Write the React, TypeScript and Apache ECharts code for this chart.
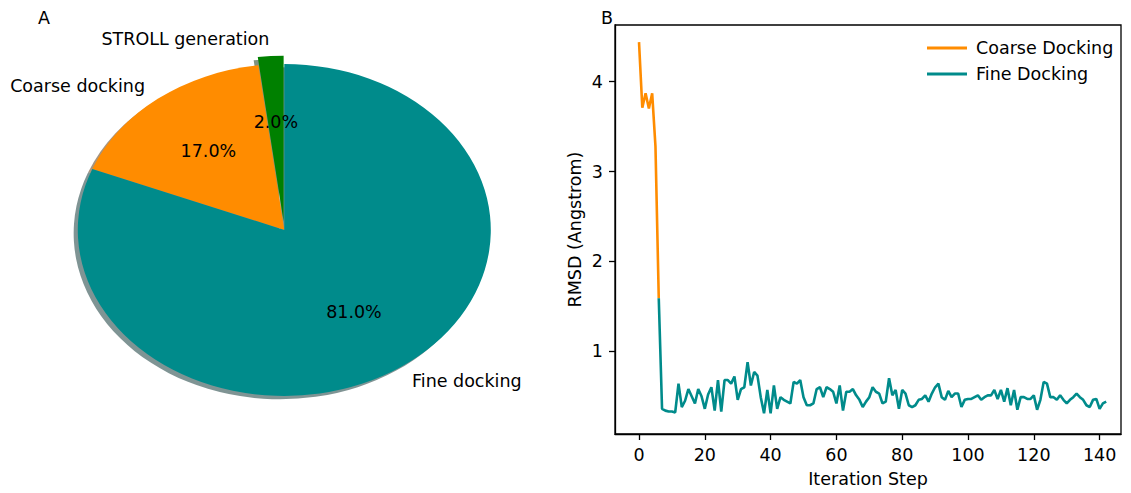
import React, { useEffect, useRef } from "react";
import * as echarts from "echarts";

// ---------- data ----------
const pieLabels = ["STROLL generation", "Coarse docking", "Fine docking"];
const pieValues = [2, 17, 81];
const pieColors = ["#008000", "#ff8c00", "#008b8b"];
const pieExplode = [0.05, 0, 0];

const coarseStart = 0;
const coarseValues = [4.44, 3.71, 3.87, 3.7, 3.87, 3.28, 1.59];

const fineStart = 6;
const fineValues = [
  1.59,
  0.36, 0.34, 0.33, 0.33, 0.32,
  0.64, 0.38, 0.45, 0.58, 0.5,
  0.42, 0.58, 0.5, 0.36, 0.52,
  0.6, 0.34, 0.68, 0.33, 0.68,
  0.68, 0.64, 0.72, 0.46, 0.58,
  0.6, 0.88, 0.62, 0.77, 0.73,
  0.49, 0.31, 0.57, 0.31, 0.62,
  0.36, 0.49, 0.46, 0.44, 0.42,
  0.66, 0.64, 0.68, 0.49, 0.4,
  0.4, 0.42, 0.58, 0.6, 0.49,
  0.6, 0.58, 0.55, 0.42, 0.62,
  0.34, 0.55, 0.55, 0.58, 0.51,
  0.46, 0.38, 0.44, 0.49, 0.6,
  0.55, 0.53, 0.42, 0.44, 0.7,
  0.51, 0.57, 0.36, 0.57, 0.53,
  0.4, 0.38, 0.4, 0.46, 0.47,
  0.51, 0.44, 0.53, 0.6, 0.64,
  0.49, 0.46, 0.56, 0.49, 0.53,
  0.53, 0.38, 0.46, 0.47, 0.47,
  0.49, 0.51, 0.46, 0.49, 0.51,
  0.51, 0.57, 0.47, 0.57, 0.44,
  0.59, 0.4, 0.57, 0.35, 0.49,
  0.49, 0.47,
  0.47, 0.51, 0.35, 0.46, 0.66,
  0.64, 0.49, 0.49, 0.46, 0.51,
  0.46, 0.42, 0.46, 0.49, 0.53,
  0.49, 0.46, 0.4, 0.38, 0.46,
  0.47, 0.36, 0.42, 0.44,
];

const xTicks = [0, 20, 40, 60, 80, 100, 120, 140];
const yTicks = [1, 2, 3, 4];

// ---------- layout ----------
const W = 1131;
const H = 493;
const FONT = "DejaVu Sans";
const FS = 17.5;
const PIE_CX = 284.3;
const PIE_CY = 230;
const RX = 206.5;
const RY = 166;

function shadowColor(hex: string) {
  const r = parseInt(hex.slice(1, 3), 16);
  const g = parseInt(hex.slice(3, 5), 16);
  const b = parseInt(hex.slice(5, 7), 16);
  return `rgba(${Math.round(r * 0.3)},${Math.round(g * 0.3)},${Math.round(b * 0.3)},0.5)`;
}

export default function App() {
  const ref = useRef<HTMLDivElement>(null);

  useEffect(() => {
    if (!ref.current) return;
    const chart = echarts.init(ref.current, undefined, { renderer: "svg" });
    const total = pieValues.reduce((a, b) => a + b, 0);

    const pieRender = (params: any, api: any) => {
      const i = params.dataIndex;
      let cum = 0;
      for (let j = 0; j < i; j++) cum += pieValues[j];
      const v = api.value(0);
      const a1 = Math.PI / 2 + (cum / total) * 2 * Math.PI;
      const a2 = a1 + (v / total) * 2 * Math.PI;
      const mid = (a1 + a2) / 2;
      const ex = pieExplode[i];
      const cx = PIE_CX + ex * RX * Math.cos(mid);
      const cy = PIE_CY - ex * RY * Math.sin(mid);
      const sectorShape = { cx: 0, cy: 0, r: RY, r0: 0, startAngle: -a1, endAngle: -a2, clockwise: false };
      const lx = cx + 1.1 * RX * Math.cos(mid);
      const ly = cy - 1.1 * RY * Math.sin(mid);
      const px = cx + 0.6 * RX * Math.cos(mid);
      const py = cy - 0.6 * RY * Math.sin(mid);
      const c = Math.cos(mid);
      return {
        type: "group",
        children: [
          {
            type: "group",
            x: cx - 0.02 * RX,
            y: cy + 0.02 * RY,
            scaleX: RX / RY,
            scaleY: 1,
            children: [
              { type: "sector", shape: sectorShape, style: { fill: shadowColor(pieColors[i]) }, z2: 0 },
            ],
          },
          {
            type: "group",
            x: cx,
            y: cy,
            scaleX: RX / RY,
            scaleY: 1,
            children: [
              { type: "sector", shape: sectorShape, style: { fill: pieColors[i] }, z2: 10 },
            ],
          },
          {
            type: "text",
            x: lx,
            y: ly,
            z2: 20,
            style: {
              text: pieLabels[i],
              fontFamily: FONT,
              fontSize: FS,
              fill: "#000",
              align: Math.abs(c) < 1e-9 ? "center" : c > 0 ? "left" : "right",
              verticalAlign: "middle",
            },
          },
          {
            type: "text",
            x: px,
            y: py,
            z2: 20,
            style: {
              text: ((v / total) * 100).toFixed(1) + "%",
              fontFamily: FONT,
              fontSize: FS,
              fill: "#000",
              align: "center",
              verticalAlign: "middle",
            },
          },
        ],
      };
    };

    const coarseData = coarseValues.map((y, k) => [coarseStart + k, y]);
    const fineData = fineValues.map((y, k) => [fineStart + k, y]);

    chart.setOption({
      animation: false,
      backgroundColor: "#fff",
      textStyle: { fontFamily: FONT },
      grid: {
        left: 615,
        right: W - 1121,
        top: 25,
        bottom: H - 437,
        show: true,
        borderColor: "#000",
        borderWidth: 1.3,
        backgroundColor: "transparent",
      },
      legend: {
        orient: "vertical",
        left: 922,
        top: 34,
        icon: "rect",
        itemWidth: 40,
        itemHeight: 3,
        itemGap: 8,
        textStyle: { fontFamily: FONT, fontSize: FS, color: "#000", padding: [0, 0, 0, 4] },
        data: ["Coarse Docking", "Fine Docking"],
      },
      xAxis: {
        type: "value",
        min: -7.3,
        max: 146.5,
        name: "Iteration Step",
        nameLocation: "middle",
        nameGap: 36,
        nameTextStyle: { fontFamily: FONT, fontSize: FS, color: "#000" },
        axisLine: { show: true, onZero: false, lineStyle: { color: "#000", width: 1.3 } },
        axisTick: { show: true, inside: false, length: 6, lineStyle: { color: "#000", width: 1.3 }, customValues: xTicks },
        axisLabel: { fontFamily: FONT, fontSize: FS, color: "#000", margin: 12, customValues: xTicks },
        splitLine: { show: false },
      },
      yAxis: {
        type: "value",
        min: 0.08,
        max: 4.63,
        name: "RMSD (Angstrom)",
        nameLocation: "middle",
        nameRotate: 90,
        nameGap: 31,
        nameTextStyle: { fontFamily: FONT, fontSize: FS, color: "#000" },
        axisLine: { show: true, onZero: false, lineStyle: { color: "#000", width: 1.3 } },
        axisTick: { show: true, inside: false, length: 6, lineStyle: { color: "#000", width: 1.3 }, customValues: yTicks },
        axisLabel: { fontFamily: FONT, fontSize: FS, color: "#000", margin: 12, customValues: yTicks },
        splitLine: { show: false },
      },
      graphic: [
        { type: "text", left: 38, top: 9, style: { text: "A", fontFamily: FONT, fontSize: FS, fill: "#000" } },
        { type: "text", left: 601, top: 9, style: { text: "B", fontFamily: FONT, fontSize: FS, fill: "#000" } },
      ],
      series: [
        {
          type: "custom",
          name: "pie",
          coordinateSystem: "none",
          renderItem: pieRender,
          data: pieValues,
          silent: true,
        },
        {
          type: "line",
          name: "Coarse Docking",
          data: coarseData,
          showSymbol: false,
          symbol: "none",
          color: "#ff8c00",
          lineStyle: { color: "#ff8c00", width: 2.6 },
        },
        {
          type: "line",
          name: "Fine Docking",
          data: fineData,
          showSymbol: false,
          symbol: "none",
          color: "#008b8b",
          lineStyle: { color: "#008b8b", width: 2.6 },
        },
      ],
    });
    return () => chart.dispose();
  }, []);

  return (
    <div
      ref={ref}
      style={{ position: "fixed", left: 0, top: 0, width: W, height: H, background: "#fff" }}
    />
  );
}
